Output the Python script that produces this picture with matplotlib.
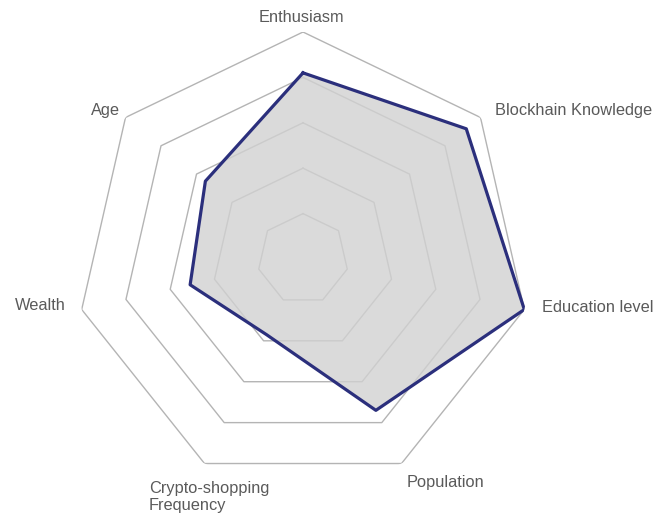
import numpy as np
import matplotlib
matplotlib.use("Agg")
import matplotlib.pyplot as plt

# ---- data ----
categories = ["Enthusiasm", "Blockhain Knowledge", "Education level", "Population",
              "Crypto-shopping\nFrequency", "Wealth", "Age"]
values = [0.82, 0.92, 1.00, 0.74, 0.37, 0.51, 0.55]
ring_levels = [0.2, 0.4, 0.6, 0.8, 1.0]

W, H = 656, 515
CX, CY, R = 303, 259, 227  # pixel geometry of the radar

fig = plt.figure(figsize=(W / 100, H / 100), dpi=100)
ax = fig.add_axes([(CX - R) / W, (H - CY - R) / H, 2 * R / W, 2 * R / H], projection="polar")
ax.set_theta_offset(np.pi / 2)
ax.set_theta_direction(-1)
ax.set_ylim(0, 1)
ax.set_xticks([])
ax.set_yticks([])
ax.grid(False)
ax.spines["polar"].set_visible(False)
ax.patch.set_alpha(0)

n = len(categories)
theta = np.linspace(0, 2 * np.pi, n, endpoint=False)
theta_c = np.append(theta, theta[0])

# heptagonal grid
for lv in ring_levels:
    ax.plot(theta_c, [lv] * (n + 1), color="#b4b4b4", lw=1.0, zorder=1)

vals_c = np.append(values, values[0])
ax.fill(theta_c, vals_c, color="#d1d1d1", alpha=0.8, zorder=2, lw=0)
ax.plot(theta_c, vals_c, color="#2b2f7c", lw=2.3, zorder=3)

# labels
def px_to_polar(px, py):
    dx = px - CX
    dy = CY - py
    return np.arctan2(dx, dy), np.hypot(dx, dy) / R

label_anchor = [
    ((301, 17), "center"),
    ((495, 110), "left"),
    ((542, 307), "left"),
    ((407, 482), "left"),
    ((149, 497), "left"),
    ((66, 306), "right"),
    ((105, 111), "center"),
]
for lab, ((px, py), ha) in zip(categories, label_anchor):
    t, r = px_to_polar(px, py)
    ax.text(t, r, lab, ha=ha, va="center", fontsize=11.8, color="#5a5a5a",
            family=["Liberation Sans", "DejaVu Sans"], clip_on=False, linespacing=1.15,
            multialignment="left")

fig.savefig("out.png", dpi=100)
